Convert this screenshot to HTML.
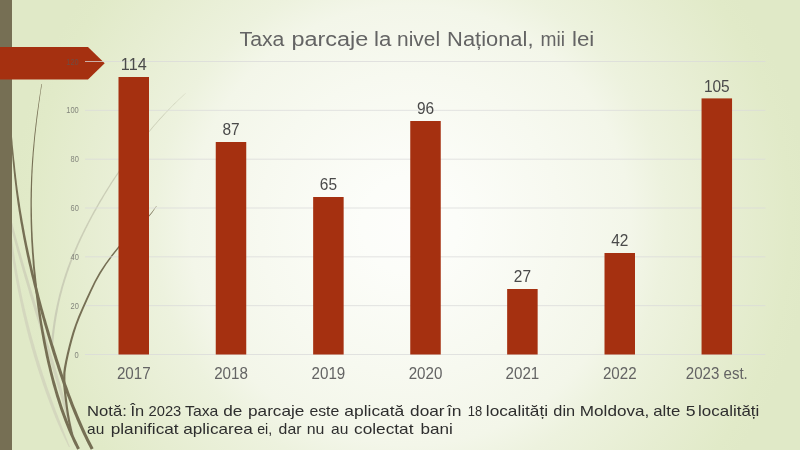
<!DOCTYPE html>
<html lang="ro"><head><meta charset="utf-8"><title>Taxa parcaje la nivel Național, mii lei</title>
<style>
html,body{margin:0;padding:0;width:800px;height:450px;overflow:hidden;background:#e6ecd0;}
svg{display:block;position:absolute;left:0;top:0}
text{font-family:"Liberation Sans","DejaVu Sans",sans-serif;}
</style></head><body>
<svg width="800" height="450" viewBox="0 0 800 450">
<defs>
<radialGradient id="bg" gradientUnits="userSpaceOnUse" cx="410" cy="225" r="400">
<stop offset="0" stop-color="#fdfdfb"/>
<stop offset="0.12" stop-color="#fcfdf9"/>
<stop offset="0.375" stop-color="#f7f9f0"/>
<stop offset="0.55" stop-color="#f3f6e9"/>
<stop offset="0.64" stop-color="#edf2de"/>
<stop offset="0.82" stop-color="#e6edd1"/>
<stop offset="0.95" stop-color="#e1eac8"/>
<stop offset="1" stop-color="#e0e9c7"/>
</radialGradient>
</defs>
<rect width="800" height="450" fill="url(#bg)"/>
<g stroke="none">
<path d="M8.2 225.1 L8.4 227.0 L8.6 228.9 L8.8 230.8 L9.0 232.7 L9.2 234.6 L9.4 236.5 L9.7 238.4 L9.9 240.3 L10.1 242.2 L10.4 244.1 L10.6 246.0 L10.9 247.9 L11.1 249.8 L11.4 251.7 L11.7 253.6 L12.0 255.5 L12.3 257.4 L12.5 259.4 L12.8 261.3 L13.1 263.2 L13.4 265.1 L13.7 267.0 L14.1 268.9 L14.4 270.8 L14.7 272.7 L15.0 274.6 L15.4 276.5 L15.7 278.4 L16.0 280.3 L16.4 282.2 L16.7 284.1 L17.1 286.0 L17.4 287.9 L17.8 289.8 L18.2 291.7 L18.6 293.6 L19.0 295.5 L19.4 297.4 L19.8 299.3 L20.2 301.2 L20.6 303.1 L21.0 305.0 L21.4 306.9 L21.8 308.8 L22.2 310.7 L22.6 312.6 L23.1 314.5 L23.5 316.4 L24.0 318.3 L24.4 320.2 L24.9 322.1 L25.3 324.0 L25.8 325.9 L26.3 327.8 L26.7 329.7 L27.2 331.6 L27.7 333.5 L28.2 335.4 L28.7 337.4 L29.2 339.3 L29.7 341.2 L30.2 343.1 L30.8 345.0 L31.3 346.9 L31.8 348.8 L32.4 350.7 L32.9 352.6 L33.5 354.5 L34.0 356.4 L34.6 358.3 L35.2 360.2 L35.8 362.1 L36.3 364.0 L36.9 365.9 L37.5 367.8 L38.1 369.7 L38.7 371.6 L39.3 373.5 L40.0 375.4 L40.6 377.3 L41.2 379.2 L41.9 381.1 L42.5 383.0 L43.1 384.9 L43.8 386.8 L44.5 388.7 L45.1 390.6 L45.8 392.5 L46.5 394.4 L47.2 396.3 L47.9 398.2 L48.6 400.1 L49.3 402.0 L50.0 403.9 L50.8 405.8 L51.5 407.7 L52.2 409.6 L53.0 411.5 L53.7 413.4 L54.5 415.3 L55.2 417.2 L56.0 419.1 L56.8 421.0 L57.6 422.8 L58.4 424.7 L59.3 426.6 L60.1 428.5 L60.9 430.4 L61.8 432.2 L62.6 434.1 L63.5 436.0 L64.4 437.9 L65.3 439.7 L66.2 441.6 L67.1 443.5 L68.0 445.3 L69.0 447.2 L69.9 446.8 L69.1 444.9 L68.3 442.9 L67.6 441.0 L66.8 439.1 L66.1 437.2 L65.3 435.2 L64.5 433.3 L63.8 431.4 L63.0 429.5 L62.3 427.6 L61.6 425.7 L60.8 423.7 L60.1 421.8 L59.4 419.9 L58.6 418.0 L57.9 416.1 L57.2 414.2 L56.4 412.3 L55.7 410.4 L55.0 408.5 L54.3 406.6 L53.6 404.7 L52.9 402.8 L52.2 400.9 L51.5 399.0 L50.8 397.1 L50.1 395.2 L49.5 393.3 L48.8 391.4 L48.1 389.5 L47.5 387.7 L46.8 385.8 L46.2 383.9 L45.5 382.0 L44.9 380.1 L44.3 378.2 L43.6 376.3 L43.0 374.4 L42.4 372.5 L41.8 370.6 L41.2 368.7 L40.6 366.8 L40.0 364.9 L39.4 363.0 L38.8 361.1 L38.2 359.3 L37.7 357.4 L37.1 355.5 L36.5 353.6 L36.0 351.7 L35.4 349.8 L34.9 347.9 L34.4 346.0 L33.8 344.1 L33.3 342.2 L32.8 340.3 L32.2 338.4 L31.7 336.5 L31.2 334.7 L30.7 332.8 L30.2 330.9 L29.7 329.0 L29.2 327.1 L28.7 325.2 L28.3 323.3 L27.8 321.4 L27.3 319.5 L26.9 317.6 L26.4 315.7 L25.9 313.8 L25.5 312.0 L25.1 310.1 L24.6 308.2 L24.2 306.3 L23.8 304.4 L23.3 302.5 L22.9 300.6 L22.5 298.7 L22.1 296.8 L21.7 294.9 L21.3 293.0 L20.9 291.1 L20.6 289.2 L20.2 287.3 L19.8 285.5 L19.4 283.6 L19.1 281.7 L18.7 279.8 L18.3 277.9 L18.0 276.0 L17.6 274.1 L17.3 272.2 L17.0 270.3 L16.6 268.4 L16.3 266.5 L16.0 264.6 L15.7 262.7 L15.3 260.9 L15.0 259.0 L14.7 257.1 L14.4 255.2 L14.1 253.3 L13.8 251.4 L13.6 249.5 L13.3 247.6 L13.0 245.7 L12.7 243.8 L12.4 241.9 L12.2 240.0 L11.9 238.1 L11.6 236.2 L11.4 234.4 L11.1 232.5 L10.9 230.6 L10.6 228.7 L10.4 226.8 L10.1 224.9Z" fill="#d4d7be"/>
<path d="M8.1 215.2 L8.5 217.2 L9.0 219.2 L9.5 221.2 L9.9 223.2 L10.4 225.2 L10.9 227.1 L11.4 229.1 L11.9 231.1 L12.4 233.1 L12.9 235.1 L13.4 237.0 L13.9 239.0 L14.5 241.0 L15.0 243.0 L15.5 245.0 L16.1 246.9 L16.6 248.9 L17.1 250.9 L17.7 252.9 L18.2 254.8 L18.8 256.8 L19.3 258.8 L19.9 260.8 L20.5 262.8 L21.0 264.7 L21.6 266.7 L22.2 268.7 L22.7 270.7 L23.3 272.6 L23.9 274.6 L24.4 276.6 L25.0 278.6 L25.6 280.6 L26.2 282.5 L26.8 284.5 L27.4 286.5 L28.0 288.5 L28.6 290.4 L29.1 292.4 L29.7 294.4 L30.3 296.4 L30.9 298.3 L31.5 300.3 L32.1 302.3 L32.7 304.3 L33.3 306.2 L33.9 308.2 L34.5 310.2 L35.1 312.2 L35.7 314.2 L36.3 316.1 L36.9 318.1 L37.5 320.1 L38.1 322.1 L38.7 324.0 L39.3 326.0 L39.9 328.0 L40.5 330.0 L41.1 331.9 L41.7 333.9 L42.3 335.9 L43.0 337.9 L43.6 339.9 L44.2 341.8 L44.8 343.8 L45.4 345.8 L46.0 347.8 L46.6 349.7 L47.2 351.7 L47.8 353.7 L48.4 355.6 L49.0 357.6 L49.6 359.6 L50.2 361.6 L50.8 363.5 L51.4 365.5 L52.0 367.5 L52.6 369.5 L53.2 371.4 L53.8 373.4 L54.4 375.4 L55.0 377.4 L55.6 379.3 L56.2 381.3 L56.7 383.3 L57.3 385.2 L57.9 387.2 L58.5 389.2 L59.1 391.2 L59.6 393.1 L60.2 395.1 L60.8 397.1 L61.4 399.0 L62.0 401.0 L62.5 403.0 L63.1 404.9 L63.7 406.9 L64.2 408.9 L64.8 410.9 L65.4 412.8 L65.9 414.8 L66.5 416.8 L67.0 418.7 L67.6 420.7 L68.2 422.7 L68.7 424.6 L69.3 426.6 L69.9 428.5 L70.4 430.5 L71.0 432.5 L71.5 434.4 L72.1 436.4 L72.7 438.3 L73.3 440.3 L73.9 442.2 L74.5 444.2 L75.0 446.1 L76.0 445.9 L75.6 443.9 L75.2 441.9 L74.8 439.9 L74.4 437.9 L74.0 435.9 L73.6 433.9 L73.1 431.9 L72.7 429.9 L72.2 427.9 L71.7 425.9 L71.2 423.9 L70.8 422.0 L70.3 420.0 L69.7 418.0 L69.2 416.0 L68.7 414.0 L68.2 412.0 L67.6 410.1 L67.1 408.1 L66.6 406.1 L66.0 404.1 L65.5 402.1 L64.9 400.2 L64.4 398.2 L63.8 396.2 L63.3 394.2 L62.7 392.2 L62.1 390.3 L61.5 388.3 L61.0 386.3 L60.4 384.3 L59.8 382.4 L59.2 380.4 L58.6 378.4 L58.0 376.4 L57.5 374.5 L56.9 372.5 L56.3 370.5 L55.7 368.5 L55.1 366.6 L54.5 364.6 L53.9 362.6 L53.3 360.6 L52.7 358.7 L52.1 356.7 L51.5 354.7 L50.9 352.7 L50.2 350.8 L49.6 348.8 L49.0 346.8 L48.4 344.8 L47.8 342.9 L47.2 340.9 L46.6 338.9 L46.0 336.9 L45.3 335.0 L44.7 333.0 L44.1 331.0 L43.5 329.1 L42.9 327.1 L42.3 325.1 L41.6 323.1 L41.0 321.2 L40.4 319.2 L39.8 317.2 L39.2 315.3 L38.6 313.3 L37.9 311.3 L37.3 309.3 L36.7 307.4 L36.1 305.4 L35.5 303.4 L34.9 301.4 L34.3 299.5 L33.7 297.5 L33.0 295.5 L32.4 293.6 L31.8 291.6 L31.2 289.6 L30.6 287.6 L30.0 285.7 L29.5 283.7 L28.9 281.7 L28.3 279.8 L27.7 277.8 L27.1 275.8 L26.5 273.8 L25.9 271.9 L25.3 269.9 L24.8 267.9 L24.2 266.0 L23.6 264.0 L23.0 262.0 L22.5 260.0 L21.9 258.1 L21.3 256.1 L20.8 254.1 L20.2 252.2 L19.6 250.2 L19.1 248.2 L18.5 246.3 L18.0 244.3 L17.4 242.3 L16.9 240.3 L16.4 238.4 L15.8 236.4 L15.3 234.4 L14.8 232.5 L14.2 230.5 L13.7 228.5 L13.2 226.5 L12.7 224.6 L12.1 222.6 L11.6 220.7 L11.1 218.7 L10.6 216.7 L10.0 214.8Z" fill="#d1d4bb"/>
<path d="M185.8 92.9 L183.4 95.0 L181.1 97.2 L178.8 99.3 L176.6 101.5 L174.3 103.6 L172.2 105.7 L170.0 107.9 L167.9 110.0 L165.9 112.2 L163.8 114.3 L161.8 116.5 L159.8 118.6 L157.9 120.8 L156.0 122.9 L154.1 125.1 L152.2 127.2 L150.4 129.4 L148.6 131.5 L146.8 133.7 L145.0 135.8 L143.2 138.0 L141.5 140.1 L139.8 142.3 L138.1 144.4 L136.4 146.6 L134.8 148.7 L133.2 150.9 L131.5 153.0 L129.9 155.2 L128.4 157.3 L126.8 159.5 L125.3 161.6 L123.7 163.8 L122.2 165.9 L120.7 168.1 L119.2 170.2 L117.8 172.4 L116.3 174.5 L114.9 176.7 L113.4 178.8 L112.0 181.0 L110.6 183.1 L109.3 185.3 L107.9 187.4 L106.6 189.6 L105.2 191.7 L103.9 193.9 L102.6 196.0 L101.3 198.2 L100.0 200.3 L98.7 202.5 L97.5 204.7 L96.3 206.8 L95.0 209.0 L93.8 211.1 L92.6 213.3 L91.4 215.4 L90.3 217.6 L89.1 219.7 L88.0 221.9 L86.9 224.0 L85.8 226.2 L84.7 228.3 L83.6 230.5 L82.5 232.7 L81.5 234.8 L80.4 237.0 L79.4 239.1 L78.4 241.3 L77.4 243.4 L76.5 245.6 L75.5 247.7 L74.6 249.9 L73.7 252.1 L72.7 254.2 L71.9 256.4 L71.0 258.5 L70.1 260.7 L69.3 262.8 L68.5 265.0 L67.7 267.1 L66.9 269.3 L66.2 271.5 L65.4 273.6 L64.7 275.8 L64.0 277.9 L63.3 280.1 L62.7 282.3 L62.0 284.4 L61.4 286.6 L60.8 288.7 L60.2 290.9 L59.6 293.1 L59.0 295.2 L58.5 297.4 L58.0 299.5 L57.5 301.7 L57.0 303.9 L56.5 306.0 L56.1 308.2 L55.6 310.3 L55.2 312.5 L54.8 314.7 L54.4 316.8 L54.1 319.0 L53.7 321.1 L53.4 323.3 L53.1 325.5 L52.8 327.6 L52.5 329.8 L52.2 331.9 L52.0 334.1 L51.7 336.3 L51.5 338.4 L51.3 340.6 L51.1 342.7 L50.9 344.9 L53.1 345.1 L53.3 342.9 L53.5 340.8 L53.7 338.6 L53.9 336.5 L54.1 334.4 L54.4 332.2 L54.6 330.1 L54.9 327.9 L55.2 325.8 L55.5 323.6 L55.8 321.5 L56.2 319.3 L56.5 317.2 L56.9 315.0 L57.3 312.9 L57.7 310.7 L58.1 308.6 L58.5 306.4 L59.0 304.3 L59.4 302.1 L59.9 300.0 L60.4 297.8 L60.9 295.7 L61.5 293.6 L62.1 291.4 L62.6 289.3 L63.2 287.1 L63.8 285.0 L64.5 282.8 L65.1 280.7 L65.8 278.5 L66.5 276.4 L67.2 274.2 L67.9 272.1 L68.7 269.9 L69.4 267.8 L70.2 265.6 L71.0 263.5 L71.8 261.3 L72.7 259.2 L73.5 257.0 L74.4 254.9 L75.2 252.7 L76.1 250.6 L77.1 248.4 L78.0 246.3 L78.9 244.1 L79.9 242.0 L80.9 239.8 L81.9 237.6 L82.9 235.5 L83.9 233.3 L85.0 231.2 L86.0 229.0 L87.1 226.9 L88.2 224.7 L89.3 222.6 L90.4 220.4 L91.6 218.3 L92.7 216.1 L93.9 214.0 L95.1 211.8 L96.3 209.7 L97.5 207.5 L98.7 205.3 L99.9 203.2 L101.2 201.0 L102.5 198.9 L103.7 196.7 L105.0 194.6 L106.3 192.4 L107.7 190.3 L109.0 188.1 L110.3 186.0 L111.7 183.8 L113.1 181.6 L114.5 179.5 L115.9 177.3 L117.3 175.2 L118.7 173.0 L120.2 170.9 L121.7 168.7 L123.1 166.6 L124.6 164.4 L126.1 162.2 L127.7 160.1 L129.2 157.9 L130.8 155.8 L132.4 153.6 L133.9 151.5 L135.6 149.3 L137.2 147.1 L138.8 145.0 L140.5 142.8 L142.2 140.7 L143.9 138.5 L145.6 136.3 L147.4 134.2 L149.2 132.0 L151.0 129.9 L152.8 127.7 L154.6 125.6 L156.5 123.4 L158.4 121.2 L160.4 119.1 L162.3 116.9 L164.3 114.8 L166.3 112.6 L168.4 110.4 L170.4 108.3 L172.5 106.1 L174.7 103.9 L176.9 101.8 L179.1 99.6 L181.4 97.4 L183.7 95.3 L186.0 93.1Z" fill="#cbceb7"/>
<path d="M41.4 84.0 L40.9 87.1 L40.5 90.2 L40.0 93.3 L39.5 96.4 L39.0 99.6 L38.6 102.7 L38.1 105.8 L37.7 108.9 L37.2 112.0 L36.8 115.1 L36.4 118.3 L36.0 121.4 L35.6 124.5 L35.3 127.6 L34.9 130.7 L34.5 133.9 L34.2 137.0 L33.9 140.1 L33.6 143.2 L33.3 146.3 L33.0 149.5 L32.7 152.6 L32.5 155.7 L32.2 158.8 L32.0 162.0 L31.8 165.1 L31.6 168.2 L31.4 171.3 L31.3 174.4 L31.1 177.6 L31.0 180.7 L30.9 183.8 L30.8 186.9 L30.7 190.1 L30.6 193.2 L30.6 196.3 L30.5 199.4 L30.5 202.5 L30.5 205.7 L30.5 208.8 L30.5 211.9 L30.5 215.0 L30.6 218.2 L30.6 221.3 L30.7 224.4 L30.8 227.5 L30.9 230.7 L31.0 233.8 L31.1 236.9 L31.2 240.0 L31.4 243.1 L31.6 246.3 L31.8 249.4 L31.9 252.5 L32.2 255.6 L32.4 258.8 L32.6 261.9 L32.8 265.0 L33.1 268.1 L33.4 271.3 L33.7 274.4 L34.0 277.5 L34.3 280.6 L34.6 283.8 L34.9 286.9 L35.3 290.0 L35.6 293.2 L36.0 296.3 L36.4 299.4 L36.8 302.5 L37.2 305.7 L37.6 308.8 L38.1 311.9 L38.5 315.0 L39.0 318.2 L39.5 321.3 L40.0 324.4 L40.5 327.5 L41.0 330.7 L41.5 333.8 L42.1 336.9 L42.6 340.1 L43.2 343.2 L43.8 346.3 L44.5 349.4 L45.1 352.6 L45.7 355.7 L46.4 358.8 L47.1 362.0 L47.8 365.1 L48.6 368.2 L49.3 371.3 L50.1 374.5 L50.9 377.6 L51.7 380.7 L52.5 383.9 L53.4 387.0 L54.3 390.1 L55.2 393.3 L56.1 396.4 L57.1 399.5 L58.1 402.7 L59.1 405.8 L60.1 408.9 L61.2 412.1 L62.4 415.2 L63.5 418.3 L64.7 421.5 L65.9 424.6 L67.2 427.7 L68.5 430.9 L69.8 434.0 L71.2 437.1 L72.6 440.3 L74.1 443.4 L75.7 446.5 L77.2 449.7 L79.9 448.3 L78.3 445.2 L76.8 442.1 L75.3 439.0 L73.9 435.9 L72.6 432.8 L71.2 429.7 L69.9 426.6 L68.7 423.5 L67.5 420.4 L66.3 417.3 L65.1 414.2 L64.0 411.1 L62.9 408.0 L61.9 404.9 L60.9 401.8 L59.9 398.6 L58.9 395.5 L58.0 392.4 L57.0 389.3 L56.2 386.2 L55.3 383.1 L54.4 380.0 L53.6 376.9 L52.8 373.8 L52.0 370.7 L51.3 367.6 L50.5 364.5 L49.8 361.3 L49.1 358.2 L48.4 355.1 L47.8 352.0 L47.1 348.9 L46.5 345.8 L45.9 342.7 L45.3 339.6 L44.7 336.5 L44.1 333.3 L43.5 330.2 L43.0 327.1 L42.4 324.0 L41.9 320.9 L41.4 317.8 L40.9 314.7 L40.4 311.6 L40.0 308.4 L39.5 305.3 L39.1 302.2 L38.6 299.1 L38.2 296.0 L37.8 292.9 L37.4 289.8 L37.0 286.7 L36.7 283.5 L36.3 280.4 L36.0 277.3 L35.7 274.2 L35.3 271.1 L35.0 268.0 L34.7 264.9 L34.5 261.7 L34.2 258.6 L34.0 255.5 L33.7 252.4 L33.5 249.3 L33.3 246.2 L33.1 243.1 L32.9 239.9 L32.7 236.8 L32.6 233.7 L32.4 230.6 L32.3 227.5 L32.2 224.4 L32.1 221.2 L32.0 218.1 L32.0 215.0 L31.9 211.9 L31.9 208.8 L31.8 205.7 L31.8 202.5 L31.8 199.4 L31.9 196.3 L31.9 193.2 L32.0 190.1 L32.0 187.0 L32.1 183.8 L32.2 180.7 L32.3 177.6 L32.4 174.5 L32.6 171.4 L32.7 168.3 L32.9 165.1 L33.1 162.0 L33.3 158.9 L33.5 155.8 L33.7 152.7 L34.0 149.6 L34.3 146.4 L34.5 143.3 L34.8 140.2 L35.1 137.1 L35.4 134.0 L35.8 130.8 L36.1 127.7 L36.5 124.6 L36.8 121.5 L37.2 118.4 L37.6 115.2 L38.0 112.1 L38.4 109.0 L38.8 105.9 L39.2 102.8 L39.7 99.6 L40.1 96.5 L40.5 93.4 L41.0 90.3 L41.5 87.2 L41.9 84.0Z" fill="#766f54"/>
<path d="M7.6 100.0 L7.9 103.0 L8.1 106.0 L8.4 109.0 L8.7 112.0 L8.9 115.0 L9.2 117.9 L9.4 120.9 L9.7 123.9 L9.9 126.9 L10.1 129.9 L10.4 132.9 L10.6 135.8 L10.8 138.8 L11.1 141.8 L11.3 144.8 L11.5 147.8 L11.8 150.8 L12.0 153.8 L12.3 156.8 L12.5 159.7 L12.8 162.7 L13.1 165.7 L13.4 168.7 L13.7 171.7 L14.0 174.7 L14.3 177.7 L14.7 180.7 L15.0 183.6 L15.4 186.6 L15.7 189.6 L16.1 192.6 L16.5 195.6 L16.9 198.6 L17.3 201.6 L17.7 204.6 L18.2 207.5 L18.6 210.5 L19.1 213.5 L19.6 216.5 L20.0 219.5 L20.5 222.5 L21.1 225.5 L21.6 228.5 L22.1 231.5 L22.7 234.5 L23.2 237.4 L23.8 240.4 L24.4 243.4 L25.0 246.4 L25.6 249.4 L26.2 252.4 L26.8 255.4 L27.5 258.4 L28.1 261.4 L28.8 264.4 L29.5 267.3 L30.1 270.3 L30.8 273.3 L31.5 276.3 L32.3 279.3 L33.0 282.3 L33.7 285.3 L34.5 288.3 L35.2 291.2 L36.0 294.2 L36.7 297.2 L37.5 300.2 L38.3 303.2 L39.1 306.2 L39.9 309.2 L40.7 312.2 L41.5 315.2 L42.4 318.1 L43.2 321.1 L44.0 324.1 L44.9 327.1 L45.8 330.1 L46.6 333.1 L47.5 336.1 L48.4 339.1 L49.3 342.0 L50.2 345.0 L51.1 348.0 L52.0 351.0 L52.9 354.0 L53.9 357.0 L54.8 360.0 L55.8 363.0 L56.8 366.0 L57.7 368.9 L58.7 371.9 L59.7 374.9 L60.8 377.9 L61.8 380.9 L62.8 383.9 L63.9 386.9 L64.9 389.9 L66.0 392.9 L67.1 395.8 L68.3 398.8 L69.4 401.8 L70.5 404.8 L71.7 407.8 L72.9 410.8 L74.1 413.8 L75.4 416.8 L76.6 419.8 L77.9 422.8 L79.2 425.8 L80.6 428.8 L81.9 431.8 L83.3 434.7 L84.8 437.7 L86.2 440.7 L87.7 443.7 L89.3 446.7 L90.8 449.7 L93.6 448.3 L92.0 445.3 L90.5 442.3 L89.0 439.4 L87.6 436.4 L86.1 433.4 L84.8 430.5 L83.4 427.5 L82.1 424.5 L80.8 421.5 L79.5 418.6 L78.2 415.6 L77.0 412.6 L75.8 409.6 L74.6 406.7 L73.4 403.7 L72.3 400.7 L71.2 397.7 L70.0 394.8 L68.9 391.8 L67.9 388.8 L66.8 385.8 L65.7 382.9 L64.7 379.9 L63.7 376.9 L62.6 373.9 L61.6 371.0 L60.6 368.0 L59.7 365.0 L58.7 362.0 L57.7 359.0 L56.8 356.1 L55.8 353.1 L54.9 350.1 L54.0 347.1 L53.0 344.2 L52.1 341.2 L51.2 338.2 L50.3 335.2 L49.5 332.3 L48.6 329.3 L47.7 326.3 L46.8 323.3 L46.0 320.3 L45.1 317.4 L44.3 314.4 L43.5 311.4 L42.6 308.4 L41.8 305.5 L41.0 302.5 L40.2 299.5 L39.4 296.5 L38.7 293.5 L37.9 290.6 L37.1 287.6 L36.4 284.6 L35.6 281.6 L34.9 278.7 L34.1 275.7 L33.4 272.7 L32.7 269.7 L32.0 266.7 L31.3 263.8 L30.7 260.8 L30.0 257.8 L29.3 254.8 L28.7 251.9 L28.1 248.9 L27.4 245.9 L26.8 242.9 L26.2 240.0 L25.6 237.0 L25.0 234.0 L24.5 231.0 L23.9 228.1 L23.4 225.1 L22.8 222.1 L22.3 219.1 L21.8 216.1 L21.3 213.2 L20.8 210.2 L20.3 207.2 L19.9 204.2 L19.4 201.3 L19.0 198.3 L18.5 195.3 L18.1 192.3 L17.7 189.4 L17.3 186.4 L16.9 183.4 L16.6 180.4 L16.2 177.4 L15.9 174.5 L15.5 171.5 L15.2 168.5 L14.9 165.5 L14.6 162.6 L14.2 159.6 L13.9 156.6 L13.6 153.6 L13.3 150.6 L13.0 147.7 L12.7 144.7 L12.5 141.7 L12.2 138.7 L11.9 135.7 L11.6 132.8 L11.4 129.8 L11.1 126.8 L10.9 123.8 L10.6 120.8 L10.3 117.8 L10.1 114.9 L9.8 111.9 L9.5 108.9 L9.2 105.9 L8.9 102.9 L8.6 100.0Z" fill="#766f54"/>
<path d="M156.3 205.9 L154.1 209.0 L151.9 212.0 L148.7 215.7 L143.9 220.6 L138.2 226.1 L132.6 231.6 L127.6 236.6 L122.7 241.6 L117.5 247.6 L111.5 255.1 L105.1 263.7 L99.3 272.6 L94.3 281.5 L89.8 290.7 L85.7 299.6 L81.8 308.2 L78.2 316.6 L75.1 324.7 L72.5 332.3 L70.4 339.6 L68.5 346.7 L66.7 354.2 L65.1 361.5 L63.9 367.8 L63.3 372.6 L63.2 376.3 L63.2 380.0 L63.2 383.6 L63.4 387.3 L63.9 392.1 L64.7 399.1 L65.8 407.3 L66.9 415.2 L68.2 422.1 L69.6 428.7 L70.9 435.2 L73.1 434.8 L71.7 428.2 L70.3 421.7 L69.1 414.8 L67.9 407.0 L66.9 398.8 L66.1 391.9 L65.6 387.1 L65.4 383.6 L65.4 380.0 L65.4 376.4 L65.5 372.8 L66.1 368.2 L67.2 361.9 L68.8 354.6 L70.5 347.3 L72.4 340.1 L74.4 332.9 L76.9 325.3 L80.0 317.3 L83.5 309.0 L87.3 300.4 L91.4 291.4 L95.8 282.3 L100.7 273.4 L106.4 264.6 L112.6 256.0 L118.5 248.4 L123.7 242.4 L128.5 237.4 L133.4 232.4 L138.9 226.8 L144.6 221.2 L149.3 216.3 L152.4 212.4 L154.5 209.3 L156.7 206.1Z" fill="#766f54"/>
</g>
<rect x="0" y="0" width="12" height="450" fill="#766f54"/>
<path d="M0 47 L88 47 L104.7 63.3 L88 79.6 L0 79.6 Z" fill="#a53010"/>
<g stroke="#d9d9d9" stroke-width="0.75">
<line x1="85" y1="61.50" x2="765.4" y2="61.50"/>
<line x1="85" y1="110.33" x2="765.4" y2="110.33"/>
<line x1="85" y1="159.17" x2="765.4" y2="159.17"/>
<line x1="85" y1="208.00" x2="765.4" y2="208.00"/>
<line x1="85" y1="256.83" x2="765.4" y2="256.83"/>
<line x1="85" y1="305.67" x2="765.4" y2="305.67"/>
<line x1="85" y1="354.50" x2="765.4" y2="354.50"/>
</g>
<g font-size="8.8" fill="#595959" fill-opacity="0.7" text-anchor="end">
<text x="78.8" y="64.50" textLength="12.5" lengthAdjust="spacingAndGlyphs">120</text>
<text x="78.8" y="113.33" textLength="12.5" lengthAdjust="spacingAndGlyphs">100</text>
<text x="78.8" y="162.17" textLength="8.3" lengthAdjust="spacingAndGlyphs">80</text>
<text x="78.8" y="211.00" textLength="8.3" lengthAdjust="spacingAndGlyphs">60</text>
<text x="78.8" y="259.83" textLength="8.3" lengthAdjust="spacingAndGlyphs">40</text>
<text x="78.8" y="308.67" textLength="8.3" lengthAdjust="spacingAndGlyphs">20</text>
<text x="78.8" y="357.50" textLength="4.2" lengthAdjust="spacingAndGlyphs">0</text>
</g>
<g fill="#a53010">
<rect x="118.50" y="77.00" width="30.5" height="277.50"/>
<rect x="215.75" y="142.00" width="30.5" height="212.50"/>
<rect x="313.15" y="197.00" width="30.5" height="157.50"/>
<rect x="410.25" y="121.00" width="30.5" height="233.50"/>
<rect x="507.15" y="289.00" width="30.5" height="65.50"/>
<rect x="604.50" y="253.00" width="30.5" height="101.50"/>
<rect x="701.55" y="98.40" width="30.5" height="256.10"/>
</g>
<g font-size="16.7" fill="#4a4a4a" text-anchor="middle">
<text x="133.75" y="70.40" textLength="25.8" lengthAdjust="spacingAndGlyphs">114</text>
<text x="231.00" y="135.40" textLength="17.2" lengthAdjust="spacingAndGlyphs">87</text>
<text x="328.40" y="190.40" textLength="17.2" lengthAdjust="spacingAndGlyphs">65</text>
<text x="425.50" y="114.40" textLength="17.2" lengthAdjust="spacingAndGlyphs">96</text>
<text x="522.40" y="282.40" textLength="17.2" lengthAdjust="spacingAndGlyphs">27</text>
<text x="619.75" y="246.40" textLength="17.2" lengthAdjust="spacingAndGlyphs">42</text>
<text x="716.80" y="91.80" textLength="25.8" lengthAdjust="spacingAndGlyphs">105</text>
</g>
<g font-size="16.7" fill="#646464" text-anchor="middle">
<text x="133.75" y="379.3" textLength="33.7" lengthAdjust="spacingAndGlyphs">2017</text>
<text x="231.00" y="379.3" textLength="33.7" lengthAdjust="spacingAndGlyphs">2018</text>
<text x="328.40" y="379.3" textLength="33.7" lengthAdjust="spacingAndGlyphs">2019</text>
<text x="425.50" y="379.3" textLength="33.7" lengthAdjust="spacingAndGlyphs">2020</text>
<text x="522.40" y="379.3" textLength="33.7" lengthAdjust="spacingAndGlyphs">2021</text>
<text x="619.75" y="379.3" textLength="33.7" lengthAdjust="spacingAndGlyphs">2022</text>
<text x="716.80" y="379.3" textLength="62.0" lengthAdjust="spacingAndGlyphs">2023 est.</text>
</g>
<g font-size="20" fill="#646464">
<text x="239.60" y="45.5" textLength="44.80" lengthAdjust="spacingAndGlyphs">Taxa</text>
<text x="291.40" y="45.5" textLength="76.90" lengthAdjust="spacingAndGlyphs">parcaje</text>
<text x="374.00" y="45.5" textLength="17.30" lengthAdjust="spacingAndGlyphs">la</text>
<text x="397.10" y="45.5" textLength="43.00" lengthAdjust="spacingAndGlyphs">nivel</text>
<text x="447.10" y="45.5" textLength="86.40" lengthAdjust="spacingAndGlyphs">Național,</text>
<text x="540.50" y="45.5" textLength="24.50" lengthAdjust="spacingAndGlyphs">mii</text>
<text x="572.00" y="45.5" textLength="22.30" lengthAdjust="spacingAndGlyphs">lei</text>
</g>
<g font-size="15" fill="#2e2e2e">
<text x="87.10" y="416.3" textLength="39.70" lengthAdjust="spacingAndGlyphs">Notă:</text>
<text x="130.50" y="416.3" textLength="13.70" lengthAdjust="spacingAndGlyphs">În</text>
<text x="148.50" y="416.3" textLength="32.80" lengthAdjust="spacingAndGlyphs">2023</text>
<text x="185.00" y="416.3" textLength="33.40" lengthAdjust="spacingAndGlyphs">Taxa</text>
<text x="223.20" y="416.3" textLength="19.10" lengthAdjust="spacingAndGlyphs">de</text>
<text x="248.00" y="416.3" textLength="56.40" lengthAdjust="spacingAndGlyphs">parcaje</text>
<text x="309.40" y="416.3" textLength="29.90" lengthAdjust="spacingAndGlyphs">este</text>
<text x="344.30" y="416.3" textLength="60.00" lengthAdjust="spacingAndGlyphs">aplicată</text>
<text x="410.10" y="416.3" textLength="34.50" lengthAdjust="spacingAndGlyphs">doar</text>
<text x="446.90" y="416.3" textLength="14.60" lengthAdjust="spacingAndGlyphs">în</text>
<text x="467.80" y="416.3" textLength="14.40" lengthAdjust="spacingAndGlyphs">18</text>
<text x="485.80" y="416.3" textLength="62.30" lengthAdjust="spacingAndGlyphs">localități</text>
<text x="553.30" y="416.3" textLength="21.80" lengthAdjust="spacingAndGlyphs">din</text>
<text x="579.80" y="416.3" textLength="69.50" lengthAdjust="spacingAndGlyphs">Moldova,</text>
<text x="653.30" y="416.3" textLength="27.00" lengthAdjust="spacingAndGlyphs">alte</text>
<text x="685.70" y="416.3" textLength="9.80" lengthAdjust="spacingAndGlyphs">5</text>
<text x="698.10" y="416.3" textLength="61.20" lengthAdjust="spacingAndGlyphs">localități</text>
<text x="87.10" y="434.3" textLength="17.20" lengthAdjust="spacingAndGlyphs">au</text>
<text x="110.70" y="434.3" textLength="67.90" lengthAdjust="spacingAndGlyphs">planificat</text>
<text x="183.20" y="434.3" textLength="69.60" lengthAdjust="spacingAndGlyphs">aplicarea</text>
<text x="257.20" y="434.3" textLength="15.00" lengthAdjust="spacingAndGlyphs">ei,</text>
<text x="278.60" y="434.3" textLength="22.90" lengthAdjust="spacingAndGlyphs">dar</text>
<text x="306.70" y="434.3" textLength="17.70" lengthAdjust="spacingAndGlyphs">nu</text>
<text x="331.00" y="434.3" textLength="17.30" lengthAdjust="spacingAndGlyphs">au</text>
<text x="354.00" y="434.3" textLength="59.50" lengthAdjust="spacingAndGlyphs">colectat</text>
<text x="420.60" y="434.3" textLength="32.30" lengthAdjust="spacingAndGlyphs">bani</text>
</g>
</svg>
</body></html>
